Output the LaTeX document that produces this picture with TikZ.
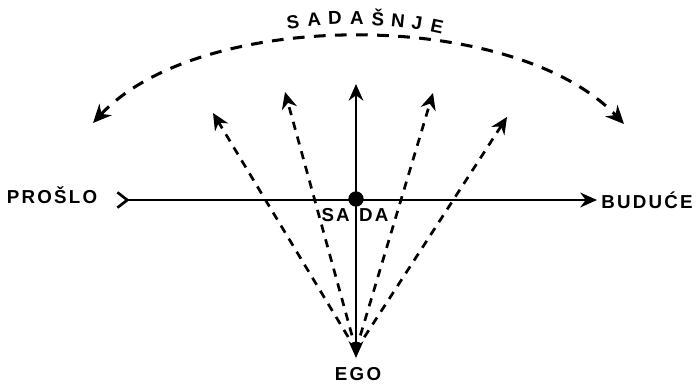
\documentclass[tikz,border=0pt]{standalone}
\usepackage{fontspec}
\setsansfont[LetterSpace=12]{Liberation Sans}
\usetikzlibrary{arrows.meta}

\begin{document}
\begin{tikzpicture}[
  x=0.03cm, y=-0.03cm,
  font=\sffamily\bfseries\fontsize{16}{19}\selectfont,
  word/.style={inner sep=1pt, anchor=center},
  axis/.style={line width=2.3pt, {Straight Barb[reversed, length=3mm, width=4.6mm, line width=2.3pt]}-{Stealth[length=5mm, width=4.4mm]}},
  ray/.style={line width=2.3pt, {Stealth[length=5mm, width=4.4mm]}-{Stealth[length=5mm, width=4.4mm]}},
  fan/.style={line width=2.3pt, dash pattern=on 7pt off 6pt, -{Stealth[length=5mm, width=4.6mm]}},
  span/.style={line width=2.6pt, dash pattern=on 10pt off 8pt, {Stealth[length=5.5mm, width=5mm]}-{Stealth[length=5.5mm, width=5mm]}}
]
\useasboundingbox (0,0) rectangle (697,387);

% time axis
\node[word] (past) at (52,195) {PROŠLO};
\node[word] (future) at (647,200) {BUDUĆE};
\coordinate (pastend) at (116,200);
\coordinate (futureend) at (597,200);
\draw[axis] (pastend) -- (futureend);

% now
\node[circle, fill, inner sep=0pt, minimum size=4.6mm] (now) at (356,199) {};
\node[word] (nowlabel) at (355,215) {SA\hspace{8pt}DA};

% ego and the rays
\node[word] (ego) at (358,374) {EGO};
\coordinate (egotip) at (356,358);
\coordinate (egofoot) at (356,350);
\coordinate (up) at (356,84);
\draw[ray] (up) -- (egotip);

\coordinate (r1) at (213,113);
\coordinate (r2) at (285,92);
\coordinate (r3) at (433,93);
\coordinate (r4) at (507,117);
\foreach \r in {r1,r2,r3,r4}
  \draw[fan] (egofoot) -- (\r);

% present span
\coordinate (spanleft) at (93,123);
\coordinate (spanright) at (624,124);
\draw[span] (spanleft) .. controls (200,8) and (514,8) .. (spanright);
\foreach \ch/\x/\y/\a in {S/293/22/8, A/314/19/5, D/335/18/2, A/357/18/0, Š/378/18/-3, N/398/21/-6, J/417/23/-9, E/437/26/-12}
  \node[word, rotate=\a] (sp-\x) at (\x,\y) {\ch};

\end{tikzpicture}
\end{document}
